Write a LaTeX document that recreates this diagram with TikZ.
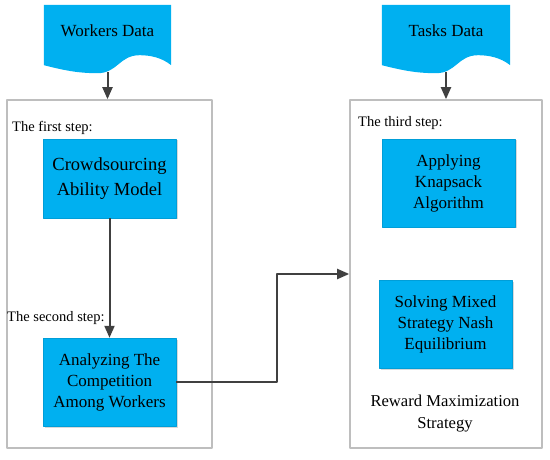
\documentclass[tikz,border=0pt]{standalone}
\usepackage{fontspec}
\setmainfont{Liberation Serif}
\usetikzlibrary{arrows.meta,calc,backgrounds,shadows}
\definecolor{boxblue}{RGB}{0,176,240}
\definecolor{linegray}{RGB}{64,64,64}
\definecolor{framegray}{RGB}{190,190,190}
\tikzset{
  stepbox/.style={rectangle, fill=boxblue, draw=boxblue!90!black, line width=0.4pt,
    minimum width=133pt, align=center, font=\fontsize{17}{21}\selectfont,
    drop shadow={shadow xshift=1.5pt, shadow yshift=-1.5pt, opacity=.3}},
  frame/.style={rectangle, draw=framegray, line width=1.6pt, minimum width=#1, minimum height=348pt},
  steplabel/.style={anchor=west, inner sep=0pt, font=\fontsize{14.5}{17}\selectfont},
  datadoc/.style={minimum width=127pt, minimum height=52pt, font=\fontsize{17}{20}\selectfont},
  flow/.style={->, draw=linegray, line width=2pt}
}
% wavy bottom of a data node
\newcommand\datawave[1]{%
  \fill[boxblue] (#1.north west) -- (#1.north east) -- ($(#1.south east)+(0,8)$)
    .. controls +(-10,-8) and +(10,0) .. ($(#1.south)+(32,-2)$)
    .. controls +(-20,0) and +(20,0) .. ($(#1.south)+(-10,16)$)
    .. controls +(-20,0) and +(20,5) .. ($(#1.south west)+(0,8)$) -- cycle;}
\begin{document}
\begin{tikzpicture}[x=1pt, y=-1pt, line join=round, >={Triangle[length=12pt,width=10pt]}]
  \useasboundingbox (0,0) rectangle (550,460);
  \node[datadoc] (wd) at (107.5,31) {Workers Data};
  \node[datadoc, minimum width=128pt] (td) at (446,31) {Tasks Data};
  \begin{scope}[on background layer]
    \datawave{wd}
    \datawave{td}
  \end{scope}
  \node[frame=205pt] (lbox) at (109.5,274) {};
  \node[frame=192pt] (rbox) at (446,274) {};
  \node[steplabel] (s1) at (12,128) {The first step:};
  \node[steplabel] (s2) at (7,318) {The second step:};
  \node[steplabel] (s3) at (358,123) {The third step:};
  \node[stepbox, minimum height=79pt, font=\fontsize{18.5}{25}\selectfont] (cam) at (109.5,178.5) {Crowdsourcing\\Ability Model};
  \node[stepbox, minimum height=88pt] (act) at (109.5,382) {Analyzing The\\Competition\\Among Workers};
  \node[stepbox, minimum height=88pt] (aka) at (448.5,183) {Applying\\Knapsack\\Algorithm};
  \node[stepbox, minimum height=88pt] (sms) at (445.5,324) {Solving Mixed\\Strategy Nash\\Equilibrium};
  \node[align=center, inner sep=0pt, font=\fontsize{16.6}{22}\selectfont] (rms) at (445,414) {Reward Maximization\\Strategy};
  \draw[flow] ($(wd.south)+(0,15)$) -- (wd.south |- lbox.north);
  \draw[flow] ($(td.south)+(0,15)$) -- (td.south |- rbox.north);
  \draw[flow] (cam) -- (act);
  \draw[flow] (act.east) -- ++(101,0) |- (rbox.west);
\end{tikzpicture}
\end{document}
